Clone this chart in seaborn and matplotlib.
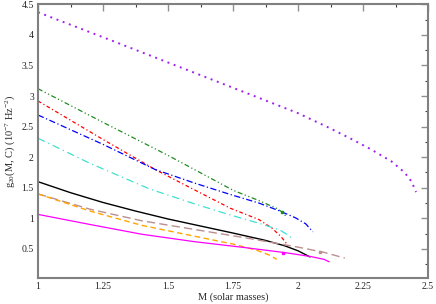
import matplotlib
matplotlib.use("Agg")
import matplotlib.pyplot as plt
import seaborn as sns
from matplotlib.ticker import MultipleLocator

# ===================== data =====================
m_purple = [1.0, 1.3, 1.62, 1.85, 2.0, 2.12, 2.2, 2.28, 2.36, 2.41, 2.437, 2.454]
g_purple = [4.37, 3.88, 3.35, 2.97, 2.72, 2.48, 2.31, 2.13, 1.93, 1.75, 1.60, 1.43]

m_green = [1.0, 1.25, 1.5, 1.75, 1.85, 1.92, 1.94, 1.955]
g_green = [3.12, 2.57, 2.03, 1.46, 1.29, 1.16, 1.10, 1.03]

m_red = [1.0, 1.25, 1.45, 1.6, 1.74, 1.85, 1.9, 1.935, 1.963]
g_red = [2.92, 2.29, 1.80, 1.47, 1.165, 0.98, 0.84, 0.70, 0.55]

m_blue = [1.0, 1.25, 1.45, 1.6, 1.74, 1.85, 1.93, 1.99, 2.03, 2.057]
g_blue = [2.69, 2.21, 1.80, 1.58, 1.39, 1.25, 1.12, 1.01, 0.91, 0.78]

m_cyan = [1.0, 1.2, 1.43, 1.6, 1.74, 1.85, 1.93, 1.965, 1.98]
g_cyan = [2.31, 1.90, 1.48, 1.24, 1.055, 0.92, 0.81, 0.72, 0.65]

m_black = [1.0, 1.125, 1.25, 1.375, 1.5, 1.625, 1.75, 1.875, 1.95, 2.0, 2.046]
g_black = [1.60, 1.42, 1.26, 1.12, 0.99, 0.875, 0.76, 0.64, 0.55, 0.47, 0.37]

m_brown = [1.0, 1.2, 1.4, 1.6, 1.8, 2.0, 2.1, 2.18]
g_brown = [1.40, 1.15, 0.96, 0.82, 0.68, 0.53, 0.445, 0.35]

m_orange = [1.0, 1.2, 1.4, 1.6, 1.75, 1.84, 1.89, 1.918]
g_orange = [1.40, 1.12, 0.885, 0.71, 0.58, 0.48, 0.40, 0.33]

m_magenta = [1.0, 1.2, 1.4, 1.6, 1.8, 1.95, 2.05, 2.1, 2.12]
g_magenta = [1.065, 0.90, 0.74, 0.62, 0.52, 0.44, 0.375, 0.33, 0.29]

# small square markers sitting on some curves
mark_m = [1.937, 2.085, 1.943]
mark_g = [1.11, 0.456, 0.44]
mark_colors = ["#228B22", "#BC8F8F", "#FF00FF"]

# ===================== style =====================
sns.set_theme(style="white")
plt.rcParams["font.family"] = ["Liberation Serif", "DejaVu Serif"]
plt.rcParams["mathtext.fontset"] = "custom"
plt.rcParams["mathtext.rm"] = "Liberation Serif"
plt.rcParams["mathtext.it"] = "Liberation Serif"

fig = plt.figure(figsize=(4.36, 3.04), dpi=100)
ax = fig.add_axes([38 / 436, 1 - 277.7 / 304, 390 / 436, 273.4 / 304])

# (x, y, color, dashes, linewidth)
curves = [
    (m_purple, g_purple, "#A020F0", (1, 2.4), 1.4),
    (m_green, g_green, "#228B22", (4, 2, 1, 2, 1, 2), 0.9),
    (m_red, g_red, "#FF0000", (3, 2, 1, 2), 0.9),
    (m_blue, g_blue, "#0000FF", (5, 2, 1, 2), 0.9),
    (m_cyan, g_cyan, "#40E0D0", (6, 3, 1, 3), 0.9),
    (m_black, g_black, "#000000", None, 1.0),
    (m_brown, g_brown, "#BC8F8F", (6, 3), 1.0),
    (m_orange, g_orange, "#FFA500", (4, 2.5), 1.0),
    (m_magenta, g_magenta, "#FF00FF", None, 0.9),
]

for xs, ys, col, dash, lw in curves:
    sns.lineplot(x=xs, y=ys, ax=ax, color=col, linewidth=lw, sort=False,
                 estimator=None)
    line = ax.lines[-1]
    if dash is not None:
        line.set_dashes(dash)

for mx, my, mc in zip(mark_m, mark_g, mark_colors):
    ax.plot(mx, my, marker="s", markersize=1.8, color=mc, linestyle="none")

ax.set_xlim(1, 2.5)
ax.set_ylim(0.03, 4.5)
ax.xaxis.set_minor_locator(MultipleLocator(0.125))
ax.yaxis.set_minor_locator(MultipleLocator(0.25))
ax.set_xticks([1, 1.25, 1.5, 1.75, 2, 2.25, 2.5])
ax.set_xticklabels(["1", "1.25", "1.5", "1.75", "2", "2.25", "2.5"])
ax.set_yticks([0.5, 1, 1.5, 2, 2.5, 3, 3.5, 4, 4.5])
ax.set_yticklabels(["0.5", "1", "1.5", "2", "2.5", "3", "3.5", "4", "4.5"])

for sp in ax.spines.values():
    sp.set_color("#808080")
    sp.set_linewidth(1.5)

ax.tick_params(which="major", direction="in", length=5, width=1.0,
               color="#909090", top=True, right=True, labelsize=7, pad=3)
ax.tick_params(which="minor", direction="in", length=2.5, width=0.8,
               color="#404040", top=True, right=True)

ax.set_xlabel("M (solar masses)", fontsize=7.5, labelpad=1)
ax.set_ylabel(r"g$_{20}$(M, C) (10$^{-7}$ Hz$^{-2}$)", fontsize=7.5, labelpad=3)

fig.savefig("out.png", dpi=100)
